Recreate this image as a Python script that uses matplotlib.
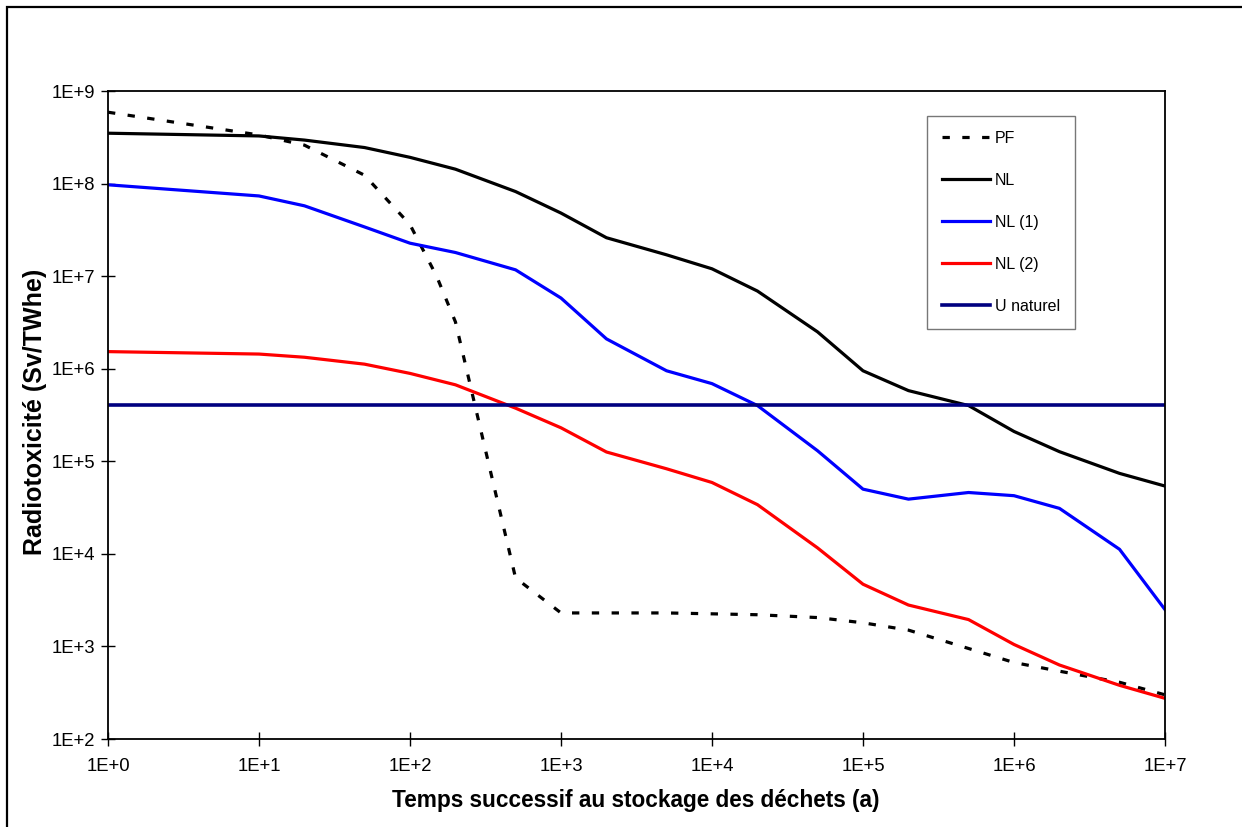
import matplotlib
matplotlib.use("Agg")
import matplotlib.pyplot as plt
from matplotlib.patches import Rectangle
from matplotlib.ticker import FixedLocator, FixedFormatter, NullLocator

plt.rcParams['font.family'] = ['Liberation Sans', 'DejaVu Sans']

# Time (years)
t = [1, 10, 20, 50, 100, 200, 500, 1e3, 2e3, 5e3, 1e4, 2e4, 5e4, 1e5, 2e5, 5e5, 1e6, 2e6, 5e6, 1e7]
t_pf = [1, 10, 20, 50, 100, 150, 200, 300, 500, 1e3, 2e3, 5e3, 1e4, 2e4, 5e4, 1e5, 2e5, 5e5, 1e6, 2e6, 5e6, 1e7]

pf = [5.9e8, 3.35e8, 2.6e8, 1.23e8, 3.6e7, 1.0e7, 3.2e6, 1.9e5, 5.5e3, 2.3e3, 2.3e3, 2.3e3, 2.25e3,
      2.2e3, 2.05e3, 1.8e3, 1.5e3, 9.5e2, 6.7e2, 5.4e2, 4.1e2, 3.0e2]
nl = [3.5e8, 3.27e8, 2.95e8, 2.45e8, 1.92e8, 1.43e8, 8.2e7, 4.8e7, 2.6e7, 1.7e7, 1.2e7, 6.9e6, 2.5e6,
      9.5e5, 5.8e5, 4.0e5, 2.1e5, 1.27e5, 7.4e4, 5.4e4]
nl1 = [9.7e7, 7.35e7, 5.75e7, 3.4e7, 2.27e7, 1.8e7, 1.17e7, 5.8e6, 2.1e6, 9.5e5, 6.9e5, 4.0e5, 1.3e5,
       5.0e4, 3.9e4, 4.6e4, 4.25e4, 3.1e4, 1.12e4, 2.5e3]
nl2 = [1.53e6, 1.44e6, 1.33e6, 1.12e6, 8.9e5, 6.7e5, 3.75e5, 2.3e5, 1.26e5, 8.3e4, 5.9e4, 3.4e4, 1.16e4,
       4.7e3, 2.8e3, 1.95e3, 1.05e3, 6.3e2, 3.8e2, 2.75e2]
u_naturel = 4.07e5

xticks = [1e0, 1e1, 1e2, 1e3, 1e4, 1e5, 1e6, 1e7]
xticklabels = ['1E+0', '1E+1', '1E+2', '1E+3', '1E+4', '1E+5', '1E+6', '1E+7']
yticks = [1e2, 1e3, 1e4, 1e5, 1e6, 1e7, 1e8, 1e9]
yticklabels = ['1E+2', '1E+3', '1E+4', '1E+5', '1E+6', '1E+7', '1E+8', '1E+9']

W, H = 1242, 827
fig = plt.figure(figsize=(W / 100, H / 100), dpi=100)
ax = fig.add_axes([108 / W, 1 - 739 / H, (1165 - 108) / W, (739 - 91) / H])

lw = 2.3
ax.plot(t_pf, pf, color='black', lw=lw, linestyle=(0, (2.3, 3.9)), label='PF')
ax.plot(t, nl, color='black', lw=lw, label='NL')
ax.plot(t, nl1, color='#0000FF', lw=lw, label='NL (1)')
ax.plot(t, nl2, color='#FF0000', lw=lw, label='NL (2)')
ax.plot([t[0], t[-1]], [u_naturel, u_naturel], color='#000080', lw=lw + 0.3, label='U naturel')

ax.set_xscale('log')
ax.set_yscale('log')
ax.set_xlim(1, 1e7)
ax.set_ylim(1e2, 1e9)
ax.xaxis.set_major_locator(FixedLocator(xticks))
ax.xaxis.set_major_formatter(FixedFormatter(xticklabels))
ax.yaxis.set_major_locator(FixedLocator(yticks))
ax.yaxis.set_major_formatter(FixedFormatter(yticklabels))
ax.xaxis.set_minor_locator(NullLocator())
ax.yaxis.set_minor_locator(NullLocator())
ax.tick_params(axis='both', direction='inout', length=10, width=1, labelsize=13.3, colors='black')
ax.tick_params(axis='x', pad=9)
ax.tick_params(axis='y', pad=4.5)
for s in ax.spines.values():
    s.set_linewidth(1.3)
    s.set_color('black')

fig.text(35 / W, 1 - 412 / H, 'Radiotoxicité (Sv/TWhe)', rotation=90, ha='center', va='center',
         fontsize=18, fontweight='bold')
fig.text(636 / W, 1 - 800 / H, 'Temps successif au stockage des déchets (a)', ha='center', va='center',
         fontsize=16.3, fontweight='bold')

leg = ax.legend(loc='upper left', bbox_to_anchor=(927 / W, 1 - 116 / H), bbox_transform=fig.transFigure,
                fontsize=11.5, frameon=True, fancybox=False, shadow=False, borderpad=0.94,
                labelspacing=1.69, handlelength=3.0, handletextpad=0.3, borderaxespad=0)
leg.get_frame().set_edgecolor('#555555')
leg.get_frame().set_linewidth(1.0)

fig.patches.append(Rectangle((7 / W, -0.1), 1.2, 1.1 - 7 / H, transform=fig.transFigure,
                             fill=False, edgecolor='black', linewidth=1.6))

fig.savefig('out.png', dpi=100)
